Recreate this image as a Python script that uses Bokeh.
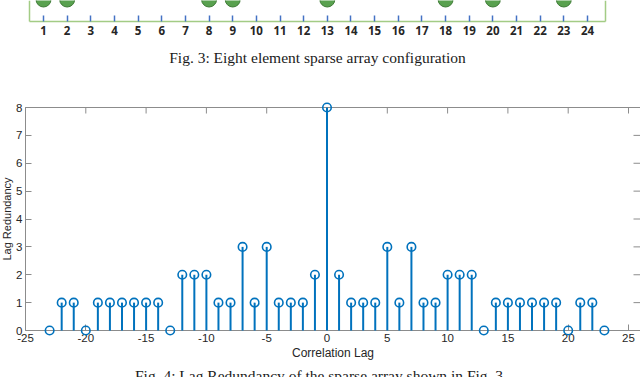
from bokeh.plotting import figure
from bokeh.models import Range1d, LinearAxis, FixedTicker, Label, ColumnDataSource
from bokeh.layouts import column
from bokeh.embed import file_html
from bokeh.resources import INLINE

# ---------------- Fig. 3 data ----------------
element_positions = [1, 2, 8, 9, 13, 18, 20, 23]
grid_numbers = list(range(1, 25))
fig3_caption = "Fig. 3: Eight element sparse array configuration"

# ---------------- Fig. 4 data ----------------
lags = list(range(-23, 24))
redundancy = [0, 1, 1, 0, 1, 1, 1, 1, 1, 1, 0, 2, 2, 2, 1, 1, 3, 1, 3, 1, 1, 1, 2,
              8,
              2, 1, 1, 1, 3, 1, 3, 1, 1, 2, 2, 2, 0, 1, 1, 1, 1, 1, 1, 0, 1, 1, 0]
x_ticks = [-25, -20, -15, -10, -5, 0, 5, 10, 15, 20, 25]
y_ticks = [0, 1, 2, 3, 4, 5, 6, 7, 8]
x_label = "Correlation Lag"
y_label = "Lag Redundancy"
fig4_caption = "Fig. 4: Lag Redundancy of the sparse array shown in Fig. 3."

W = 640
GREEN_FRAME = "#A3CC85"
TICK_BLUE = "#4472C4"
DOT_FILL = "#59A14F"
DOT_LINE = "#3F7A37"
STEM = "#0072BD"
AX = "#8C8C8C"
TXT = "#262626"

# ================= Top figure (array configuration) =================
H1 = 72
px1 = 23.65                     # pixels per element spacing
x1_start = 1 - 43 / px1
x1_end = 24 + (W - 587) / px1
box_l = 1 - 14 / px1            # green box left / right border (data units)
box_r = 24 + 18 / px1
line_y = H1 - 21                # green box bottom line (pixel units, y up)

p1 = figure(width=W, height=H1, x_range=Range1d(x1_start, x1_end), y_range=Range1d(0, H1),
            output_backend="svg", toolbar_location=None,
            x_axis_location=None, y_axis_location=None,
            min_border_left=0, min_border_right=0, min_border_top=0, min_border_bottom=0)
p1.outline_line_color = None
p1.xgrid.visible = False
p1.ygrid.visible = False

ax_num = LinearAxis(ticker=FixedTicker(ticks=grid_numbers), fixed_location=line_y,
                    bounds=(box_l, box_r),
                    major_tick_in=6, major_tick_out=0, minor_tick_in=0, minor_tick_out=0,
                    major_tick_line_color=TICK_BLUE, major_tick_line_width=1.5,
                    axis_line_color=GREEN_FRAME, axis_line_width=1.5,
                    major_label_text_font="Open Sans", major_label_text_font_style="bold",
                    major_label_text_font_size="11.5px", major_label_text_color=TXT,
                    major_label_standoff=4)
p1.add_layout(ax_num, "below")
for side, loc in (("left", box_l), ("right", box_r)):
    a = LinearAxis(ticker=FixedTicker(ticks=[]), fixed_location=loc, bounds=(line_y, H1 + 5),
                   major_tick_in=0, major_tick_out=0, minor_tick_in=0, minor_tick_out=0,
                   axis_line_color=GREEN_FRAME, axis_line_width=1.5)
    p1.add_layout(a, side)

p1.scatter(x=element_positions, y=[H1 + 1] * len(element_positions), size=15,
           fill_color=DOT_FILL, line_color=DOT_LINE, line_width=1)

p1.add_layout(Label(x=(box_l + box_r) / 2, y=line_y, y_offset=-36, text=fig3_caption,
                    text_align="center", text_baseline="middle",
                    text_font="Liberation Serif", text_font_size="15.5px", text_color="#1a1a1a"))

# ================= Bottom figure (stem plot) =================
H2 = 377 - H1
top_px = 107 - H1               # canvas y of y=8
zero_px = 330 - H1              # canvas y of y=0
sy = (zero_px - top_px) / 8.0
sx = (628 - 25) / 50.0
x2_start = -25 - 25 / sx
x2_end = 25 + (W - 628) / sx
y2_end = 8 + top_px / sy
y2_start = -(H2 - zero_px) / sy

p2 = figure(width=W, height=H2, x_range=Range1d(x2_start, x2_end), y_range=Range1d(y2_start, y2_end),
            output_backend="svg", toolbar_location=None,
            x_axis_location=None, y_axis_location=None,
            min_border_left=0, min_border_right=0, min_border_top=0, min_border_bottom=0)
p2.outline_line_color = None
p2.xgrid.visible = False
p2.ygrid.visible = False

common = dict(minor_tick_in=0, minor_tick_out=0, major_tick_out=0, major_tick_in=6,
              axis_line_color=AX, major_tick_line_color=AX, axis_line_width=1,
              major_label_text_font="Liberation Sans", major_label_text_font_size="11.5px",
              major_label_text_color=TXT,
              axis_label_text_font="Liberation Sans", axis_label_text_font_size="12px",
              axis_label_text_color=TXT, axis_label_text_font_style="normal")

ax_left = LinearAxis(ticker=FixedTicker(ticks=y_ticks), fixed_location=x_ticks[0],
                     bounds=(y_ticks[0], y_ticks[-1]), axis_label=y_label,
                     major_label_standoff=3, axis_label_standoff=0, **common)
ax_left.axis_label_text_font_size = "11px"
p2.add_layout(ax_left, "left")
ax_bottom = LinearAxis(ticker=FixedTicker(ticks=x_ticks), fixed_location=y_ticks[0],
                       bounds=(x_ticks[0], x2_end), axis_label=x_label,
                       major_label_overrides={t: str(t) for t in x_ticks},
                       major_label_standoff=3, axis_label_standoff=1, **common)
p2.add_layout(ax_bottom, "below")
ax_top = LinearAxis(ticker=FixedTicker(ticks=[]), fixed_location=y_ticks[-1],
                    bounds=(x_ticks[0], x2_end), **common)
p2.add_layout(ax_top, "above")

# inward ticks of the top and right box edges (MATLAB box)
tick_len_y = 6 / sy
tick_len_x = 7 / sx
p2.segment(x0=x_ticks, y0=[y_ticks[-1]] * len(x_ticks), x1=x_ticks,
           y1=[y_ticks[-1] - tick_len_y] * len(x_ticks), line_color=AX, line_width=1)
p2.segment(x0=[x2_end - tick_len_x] * len(y_ticks), y0=y_ticks, x1=[x2_end] * len(y_ticks),
           y1=y_ticks, line_color=AX, line_width=1)

src = ColumnDataSource(dict(lag=lags, red=redundancy))
p2.segment(x0="lag", y0=0, x1="lag", y1="red", source=src, line_color=STEM,
           line_width=2, level="overlay")
p2.scatter(x="lag", y="red", source=src, marker="circle", size=8.5, fill_color=None,
           line_color=STEM, line_width=1.6, level="overlay")

p2.add_layout(Label(x=-0.5, y=0, y_offset=-36, text=fig4_caption,
                    text_align="center", text_baseline="top",
                    text_font="Liberation Serif", text_font_size="15.5px", text_color="#1a1a1a"))

layout = column(p1, p2, spacing=0)
open("out.html", "w").write(file_html(layout, INLINE))
